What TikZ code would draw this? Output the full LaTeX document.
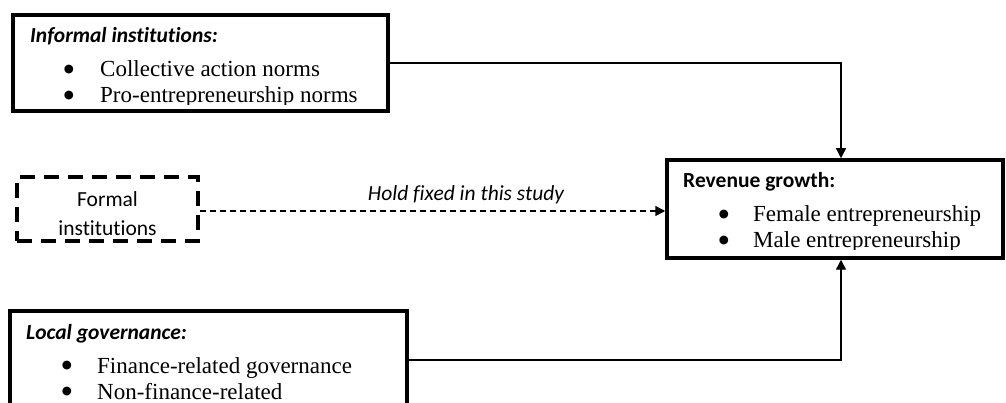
\documentclass[tikz,border=0pt]{standalone}
\usepackage{fontspec}
\setmainfont{Liberation Serif}
\setsansfont[Ligatures=NoCommon]{Carlito}
\newfontfamily\bulletfont{DejaVu Sans}
\usetikzlibrary{arrows.meta}
\tikzset{
  solidbox/.style={draw, line width=3.5pt, minimum height=98pt, inner sep=0pt},
  dashbox/.style={draw, line width=3.5pt, dash pattern=on 15pt off 9pt, inner sep=0pt},
  conn/.style={line width=1.4pt, -{Triangle[length=10pt,width=10pt]}},
  dconn/.style={line width=1.6pt, dash pattern=on 6pt off 4pt, -{Triangle[length=10pt,width=10pt]}},
  hd/.style={font=\sffamily\bfseries\itshape\fontsize{21.5}{26}\selectfont, anchor=base west, inner sep=0pt},
  hdup/.style={font=\sffamily\bfseries\fontsize{21.5}{26}\selectfont, anchor=base west, inner sep=0pt},
  itm/.style={font=\fontsize{23}{26}\selectfont, anchor=base west, inner sep=0pt},
  bul/.style={font=\bulletfont\fontsize{11.5}{12}\selectfont, anchor=base, inner sep=0pt, yshift=4.3pt},
  plain/.style={font=\sffamily\fontsize{21.5}{26}\selectfont, anchor=base, inner sep=0pt},
  note/.style={font=\sffamily\itshape\fontsize{21.5}{26}\selectfont, anchor=base, inner sep=0pt},
}
\begin{document}
\begin{tikzpicture}[x=1pt,y=-1pt]
\useasboundingbox (0,0) rectangle (1006,403);
% boxes
\node[solidbox, minimum width=375pt, minimum height=96pt] (inf) at (200.5,63) {};
\node[solidbox, minimum width=336pt] (rev) at (835,209) {};
\node[solidbox, minimum width=397pt] (gov) at (208.5,360) {};
\node[dashbox, minimum width=181pt, minimum height=64pt] (form) at (107.5,209) {};
% informal text
\begin{scope}
\clip (14,14) rectangle (387,105);
\node[hd] (inft) at (30,43) {Informal institutions:};
\node[bul] (infb1) at (69,77) {●};
\node[itm] (inf1) at (100,77) {Collective action norms};
\node[bul] (infb2) at (69,103) {●};
\node[itm] (inf2) at (100,103) {Pro-entrepreneurship norms};
\end{scope}
% revenue text
\begin{scope}
\clip (667,160) rectangle (1001,250);
\node[hdup] (revt) at (683,188) {Revenue growth:};
\node[bul] (revb1) at (724,222) {●};
\node[itm] (rev1) at (753,222) {Female entrepreneurship};
\node[bul] (revb2) at (724,248) {●};
\node[itm] (rev2) at (753,248) {Male entrepreneurship};
\end{scope}
% governance text
\node[hd] (govt) at (26,339) {Local governance:};
\node[bul] (govb1) at (67,373) {●};
\node[itm] (gov1) at (97,373) {Finance-related governance};
\node[bul] (govb2) at (67,399) {●};
\node[itm] (gov2) at (97,399) {Non-finance-related};
% formal text
\node[plain] (form1) at (107.5,207) {Formal};
\node[plain] (form2) at (107.5,236) {institutions};
% connectors
\draw[conn] (inf.east) -| ([xshift=6pt]rev.north);
\draw[conn] (gov.east) -| ([xshift=6pt]rev.south);
\draw[dconn] ([yshift=-2pt]form.east) -- ([yshift=-2pt]rev.west);
\node[note] (hold) at (466,201) {Hold fixed in this study};
\end{tikzpicture}
\end{document}
